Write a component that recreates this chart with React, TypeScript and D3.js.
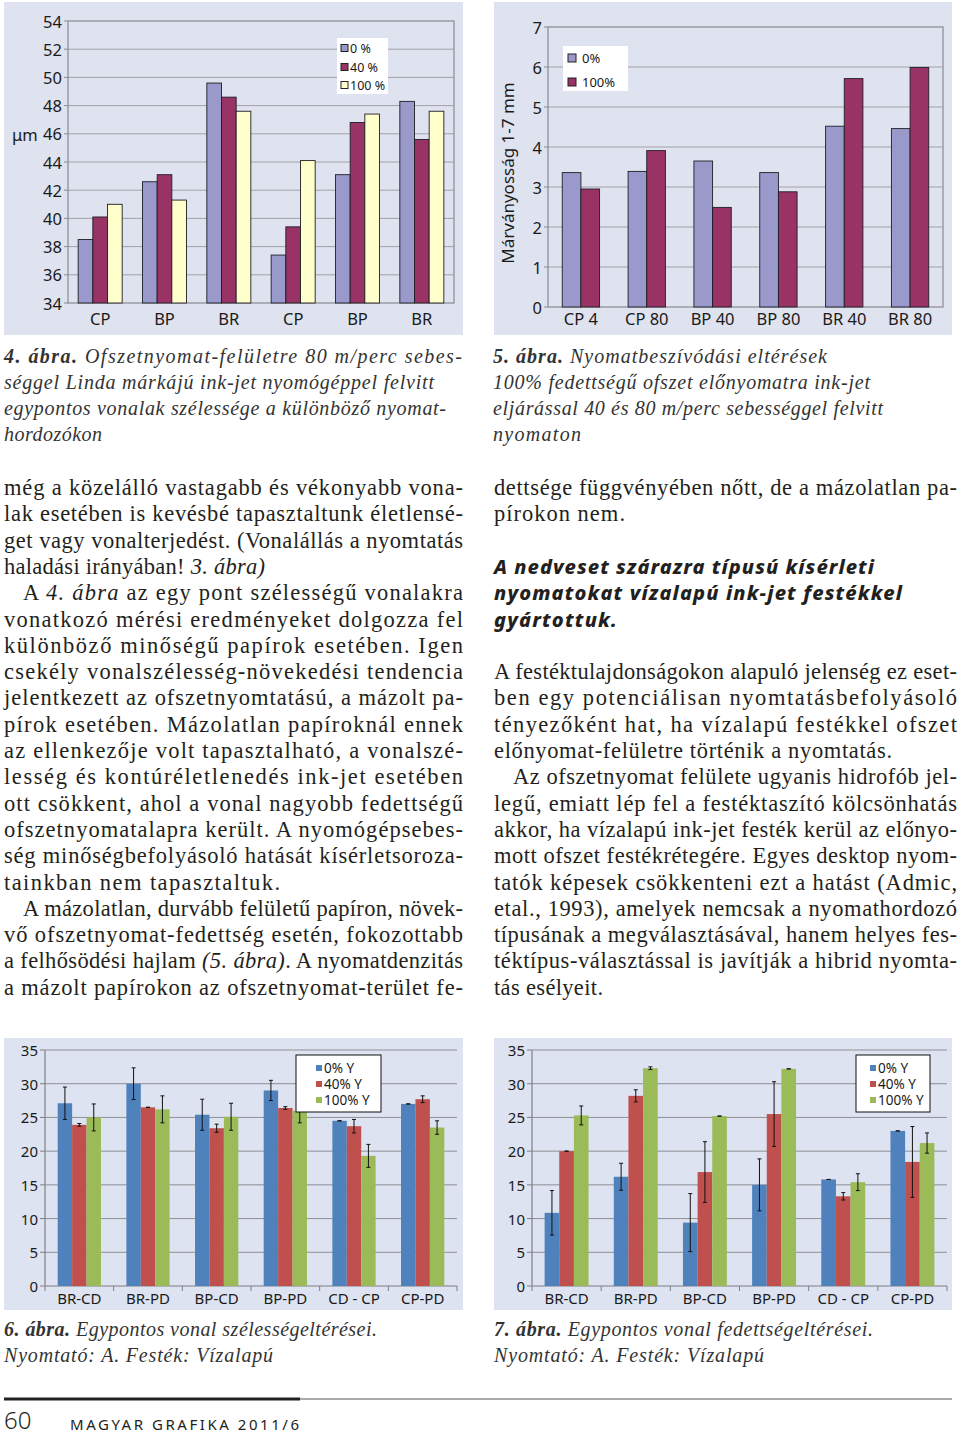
import React from 'react';
import * as d3 from 'd3';

// ---------------- chart data ----------------
const fig4Categories = ['CP', 'BP', 'BR', 'CP', 'BP', 'BR'];
const fig4SeriesNames = ['0 %', '40 %', '100 %'];
const fig4Cov0 = [38.5, 42.6, 49.6, 37.4, 43.1, 48.3];
const fig4Cov40 = [40.1, 43.1, 48.6, 39.4, 46.8, 45.6];
const fig4Cov100 = [41.0, 41.3, 47.6, 44.1, 47.4, 47.6];
const fig4Ticks = [34, 36, 38, 40, 42, 44, 46, 48, 50, 52, 54];

const fig5Categories = ['CP 4', 'CP 80', 'BP 40', 'BP 80', 'BR 40', 'BR 80'];
const fig5SeriesNames = ['0%', '100%'];
const fig5Cov0 = [3.36, 3.39, 3.65, 3.36, 4.52, 4.46];
const fig5Cov100 = [2.95, 3.91, 2.49, 2.88, 5.71, 5.99];
const fig5Ticks = [0, 1, 2, 3, 4, 5, 6, 7];

const fig67Categories = ['BR-CD', 'BR-PD', 'BP-CD', 'BP-PD', 'CD - CP', 'CP-PD'];
const fig67SeriesNames = ['0% Y', '40% Y', '100% Y'];
const fig67Ticks = [0, 5, 10, 15, 20, 25, 30, 35];

const fig6Y0 = [27.1, 30.0, 25.4, 29.0, 24.5, 27.0];
const fig6Y0Err = [2.4, 2.35, 2.3, 1.5, 0, 0];
const fig6Y40 = [23.9, 26.5, 23.4, 26.4, 23.7, 27.7];
const fig6Y40Err = [0.2, 0, 0.6, 0.2, 1.0, 0.5];
const fig6Y100 = [25.0, 26.2, 25.1, 26.0, 19.3, 23.5];
const fig6Y100Err = [2.0, 2.0, 2.0, 1.8, 1.7, 1.0];

const fig7Y0 = [10.85, 16.2, 9.4, 15.0, 15.8, 23.0];
const fig7Y0Err = [3.3, 2.0, 4.3, 3.85, 0, 0];
const fig7Y40 = [20.0, 28.2, 16.9, 25.5, 13.3, 18.4];
const fig7Y40Err = [0, 0.9, 4.5, 4.8, 0.55, 5.25];
const fig7Y100 = [25.3, 32.3, 25.2, 32.2, 15.4, 21.2];
const fig7Y100Err = [1.4, 0.2, 0, 0, 1.25, 1.5];

// ---------------- page text ----------------
// _..._ = italic, *...* = bold
const leftLines = [
  'még a közelálló vastagabb és vékonyabb vona-',
  'lak esetében is kevésbé tapasztaltunk életlensé-',
  'get vagy vonalterjedést. (Vonalállás a nyomtatás',
  'haladási irányában! _3. ábra)_',
  'A _4. ábra_ az egy pont szélességű vonalakra',
  'vonatkozó mérési eredményeket dolgozza fel',
  'különböző minőségű papírok esetében. Igen',
  'csekély vonalszélesség-növekedési tendencia',
  'jelentkezett az ofszetnyomtatású, a mázolt pa-',
  'pírok esetében. Mázolatlan papíroknál ennek',
  'az ellenkezője volt tapasztalható, a vonalszé-',
  'lesség és kontúréletlenedés ink-jet esetében',
  'ott csökkent, ahol a vonal nagyobb fedettségű',
  'ofszetnyomatalapra került. A nyomógépsebes-',
  'ség minőségbefolyásoló hatását kísérletsoroza-',
  'tainkban nem tapasztaltuk.',
  'A mázolatlan, durvább felületű papíron, növek-',
  'vő ofszetnyomat-fedettség esetén, fokozottabb',
  'a felhősödési hajlam _(5. ábra)_. A nyomatdenzitás',
  'a mázolt papírokon az ofszetnyomat-terület fe-',
];
const leftStarts = [4, 4, 4, 4, 23, 4, 4, 4, 4, 4, 4, 4, 4, 4, 4, 4, 23, 4, 4, 4];
const leftEnds = [463, 463, 463, 265, 463, 463, 463, 463, 463, 463, 463, 463, 463, 463, 463, 280, 463, 463, 463, 463];

const rightLines: [number, string, number, number][] = [
  [0, 'dettsége függvényében nőtt, de a mázolatlan pa-', 494, 957],
  [1, 'pírokon nem.', 494, 625],
  [7, 'A festéktulajdonságokon alapuló jelenség ez eset-', 494, 957],
  [8, 'ben egy potenciálisan nyomtatásbefolyásoló', 494, 957],
  [9, 'tényezőként hat, ha vízalapú festékkel ofszet', 494, 957],
  [10, 'előnyomat-felületre történik a nyomtatás.', 494, 892],
  [11, 'Az ofszetnyomat felülete ugyanis hidrofób jel-', 513, 957],
  [12, 'legű, emiatt lép fel a festéktaszító kölcsönhatás', 494, 957],
  [13, 'akkor, ha vízalapú ink-jet festék kerül az előnyo-', 494, 957],
  [14, 'mott ofszet festékrétegére. Egyes desktop nyom-', 494, 957],
  [15, 'tatók képesek csökkenteni ezt a hatást (Admic,', 494, 957],
  [16, 'etal., 1993), amelyek nemcsak a nyomathordozó', 494, 957],
  [17, 'típusának a megválasztásával, hanem helyes fes-', 494, 957],
  [18, 'téktípus-választással is javítják a hibrid nyomta-', 494, 957],
  [19, 'tás esélyeit.', 494, 603],
];
const headingLines: [number, string, number][] = [
  [3, 'A nedveset szárazra típusú kísérleti', 874],
  [4, 'nyomatokat vízalapú ink-jet festékkel', 902],
  [5, 'gyártottuk.', 617],
];

const cap4Lines: [string, number][] = [
  ['*4. ábra.* Ofszetnyomat-felületre 80 m/perc sebes-', 462],
  ['séggel Linda márkájú ink-jet nyomógéppel felvitt', 434],
  ['egypontos vonalak szélessége a különböző nyomat-', 446],
  ['hordozókon', 102],
];
const cap5Lines: [string, number][] = [
  ['*5. ábra.* Nyomatbeszívódási eltérések', 827],
  ['100% fedettségű ofszet előnyomatra ink-jet', 870],
  ['eljárással 40 és 80 m/perc sebességgel felvitt', 883],
  ['nyomaton', 581],
];
const cap6Lines: [string, number][] = [
  ['*6. ábra.* Egypontos vonal szélességeltérései.', 377],
  ['Nyomtató: A. Festék: Vízalapú', 273],
];
const cap7Lines: [string, number][] = [
  ['*7. ábra.* Egypontos vonal fedettségeltérései.', 873],
  ['Nyomtató: A. Festék: Vízalapú', 764],
];

const SERIF = "'Liberation Serif', 'Times New Roman', serif";
const SANS = "'Noto Sans', 'Open Sans', sans-serif";
const lineY = (i: number) => 495 + i * 26.3;

type Series = { name: string; values: number[]; errors?: number[]; color: string };
type Legend = {
  x: number; y: number; w: number; h: number; rows: number[];
  markerX: number; marker: number; textX: number; font: number; border?: string; markerStroke?: string;
};
type ChartProps = {
  panel: { x: number; y: number; w: number; h: number };
  plot: { l: number; r: number; t: number; b: number };
  domain: [number, number];
  ticks: number[];
  categories: string[];
  series: Series[];
  padding: number;
  classic: boolean;
  tickFont: number;
  catFont: number;
  catY: number;
  legend: Legend;
  fill: string;
};

function Chart(p: ChartProps) {
  const { plot } = p;
  const y = d3.scaleLinear().domain(p.domain).range([plot.b, plot.t]);
  const x0 = d3
    .scaleBand<number>()
    .domain(d3.range(p.categories.length))
    .range([plot.l, plot.r])
    .paddingInner(p.padding)
    .paddingOuter(p.padding / 2);
  const x1 = d3.scaleBand<number>().domain(d3.range(p.series.length)).range([0, x0.bandwidth()]);
  const grid = p.classic ? '#a2a2a8' : '#8f8f95';
  const axis = p.classic ? '#8a8a90' : '#7f7f85';
  const tickLen = p.classic ? 4 : 5;
  const L = p.legend;
  return (
    <g>
      <rect x={p.panel.x} y={p.panel.y} width={p.panel.w} height={p.panel.h} fill={p.fill} />
      {p.ticks
        .filter((t) => t !== p.domain[0] && (!p.classic || t !== p.domain[1]))
        .map((t) => (
          <line key={'g' + t} x1={plot.l} x2={plot.r} y1={y(t)} y2={y(t)} stroke={grid} strokeWidth={1} />
        ))}
      {p.classic ? (
        <rect x={plot.l} y={plot.t} width={plot.r - plot.l} height={plot.b - plot.t} fill="none" stroke={axis} strokeWidth={1.2} />
      ) : (
        <g>
          <line x1={plot.l} x2={plot.l} y1={plot.t} y2={plot.b} stroke={axis} strokeWidth={1.2} />
          <line x1={plot.l} x2={plot.r} y1={plot.b} y2={plot.b} stroke={axis} strokeWidth={1.2} />
          {d3.range(p.categories.length + 1).map((i) => (
            <line key={'ct' + i} x1={plot.l + i * x0.step()} x2={plot.l + i * x0.step()} y1={plot.b} y2={plot.b + 5} stroke={axis} />
          ))}
        </g>
      )}
      {p.ticks.map((t) => (
        <g key={'t' + t}>
          <line x1={plot.l - tickLen} x2={plot.l} y1={y(t)} y2={y(t)} stroke={axis} />
          <text
            x={plot.l - tickLen - 2}
            y={y(t)}
            textAnchor="end"
            dominantBaseline="central"
            fontFamily={SANS}
            fontSize={p.tickFont}
            fill="#1a1a1a"
          >
            {t}
          </text>
        </g>
      ))}
      {p.series.map((s, si) =>
        s.values.map((v, ci) => {
          const bx = (x0(ci) as number) + (x1(si) as number);
          return (
            <rect
              key={`b${si}-${ci}`}
              x={bx}
              y={y(v)}
              width={x1.bandwidth()}
              height={y(p.domain[0]) - y(v)}
              fill={s.color}
              stroke={p.classic ? '#1e1e24' : 'none'}
              strokeWidth={p.classic ? 0.9 : 0}
            />
          );
        })
      )}
      {p.series.map((s, si) =>
        s.errors
          ? s.values.map((v, ci) => {
              const cx = (x0(ci) as number) + (x1(si) as number) + x1.bandwidth() / 2;
              const e = s.errors![ci];
              return (
                <g key={`e${si}-${ci}`} stroke="#111" strokeWidth={1}>
                  <line x1={cx} x2={cx} y1={y(v + e)} y2={y(v - e)} />
                  <line x1={cx - 2} x2={cx + 2} y1={y(v + e)} y2={y(v + e)} />
                  <line x1={cx - 2} x2={cx + 2} y1={y(v - e)} y2={y(v - e)} />
                </g>
              );
            })
          : null
      )}
      {p.categories.map((c, ci) => (
        <text
          key={'c' + ci}
          x={(x0(ci) as number) + x0.bandwidth() / 2}
          y={p.catY}
          textAnchor="middle"
          dominantBaseline="central"
          fontFamily={SANS}
          fontSize={p.catFont}
          fill="#1a1a1a"
        >
          {c}
        </text>
      ))}
      <rect x={L.x} y={L.y} width={L.w} height={L.h} fill="#ffffff" stroke={L.border || 'none'} strokeWidth={1} />
      {p.series.map((s, si) => (
        <g key={'l' + si}>
          <rect
            x={L.markerX}
            y={L.rows[si] - L.marker / 2}
            width={L.marker}
            height={L.marker}
            fill={s.color}
            stroke={L.markerStroke || 'none'}
            strokeWidth={1}
          />
          <text x={L.textX} y={L.rows[si]} dominantBaseline="central" fontFamily={SANS} fontSize={L.font} fill="#1a1a1a">
            {s.name}
          </text>
        </g>
      ))}
    </g>
  );
}

function Rich({ x, end, y, text, size, family, italicBase, color, weight }: any) {
  const parts: { s: string; it: boolean; b: boolean }[] = [];
  let it = false;
  let b = false;
  let cur = '';
  for (const ch of text) {
    if (ch === '_' || ch === '*') {
      if (cur) parts.push({ s: cur, it, b });
      cur = '';
      if (ch === '_') it = !it;
      else b = !b;
    } else cur += ch;
  }
  if (cur) parts.push({ s: cur, it, b });
  return (
    <text
      x={x}
      y={y}
      fontSize={size}
      fontFamily={family}
      fill={color || '#231f20'}
      fontStyle={italicBase ? 'italic' : 'normal'}
      fontWeight={weight || 'normal'}
      textLength={end ? end - x : undefined}
      lengthAdjust="spacing"
    >
      {parts.map((pt, i) => (
        <tspan key={i} fontStyle={pt.it || italicBase ? 'italic' : 'normal'} fontWeight={pt.b ? 'bold' : undefined}>
          {pt.s}
        </tspan>
      ))}
    </text>
  );
}

export default function App() {
  const lav = '#dfe2ef';
  const lav2 = '#dde3f0';
  return (
    <svg
      width={960}
      height={1437}
      viewBox="0 0 960 1437"
      style={{ position: 'absolute', left: 0, top: 0, background: '#fff' }}
    >
      <rect x={0} y={0} width={960} height={1437} fill="#fff" />

      {/* Fig 4 */}
      <Chart
        panel={{ x: 4, y: 2, w: 459, h: 333 }}
        plot={{ l: 68, r: 454, t: 21, b: 303 }}
        domain={[34, 54]}
        ticks={fig4Ticks}
        categories={fig4Categories}
        series={[
          { name: fig4SeriesNames[0], values: fig4Cov0, color: '#9999cc' },
          { name: fig4SeriesNames[1], values: fig4Cov40, color: '#993366' },
          { name: fig4SeriesNames[2], values: fig4Cov100, color: '#ffffcc' },
        ]}
        padding={0.316}
        classic={true}
        tickFont={16.5}
        catFont={16.5}
        catY={318}
        fill={lav}
        legend={{ x: 337, y: 38, w: 51, h: 56, rows: [48, 67, 85], markerX: 341, marker: 7, textX: 350, font: 12.5, markerStroke: '#222' }}
      />
      <text x={12} y={134} dominantBaseline="central" fontFamily={SANS} fontSize={16.5} fill="#1a1a1a">
        μm
      </text>

      {/* Fig 5 */}
      <Chart
        panel={{ x: 494, y: 2, w: 458, h: 333 }}
        plot={{ l: 548, r: 943, t: 27, b: 307 }}
        domain={[0, 7]}
        ticks={fig5Ticks}
        categories={fig5Categories}
        series={[
          { name: fig5SeriesNames[0], values: fig5Cov0, color: '#9999cc' },
          { name: fig5SeriesNames[1], values: fig5Cov100, color: '#993366' },
        ]}
        padding={0.433}
        classic={true}
        tickFont={16.5}
        catFont={16.5}
        catY={318}
        fill={lav}
        legend={{ x: 563, y: 46, w: 65, h: 45, rows: [58, 82], markerX: 568, marker: 8, textX: 582, font: 13, markerStroke: '#222' }}
      />
      <text
        transform="translate(507,173) rotate(-90)"
        textAnchor="middle"
        dominantBaseline="central"
        fontFamily={SANS}
        fontSize={17}
        fill="#1a1a1a"
      >
        Márványosság 1-7 mm
      </text>

      {/* Fig 6 */}
      <Chart
        panel={{ x: 4, y: 1038, w: 459, h: 272 }}
        plot={{ l: 45, r: 457, t: 1050, b: 1286 }}
        domain={[0, 35]}
        ticks={fig67Ticks}
        categories={fig67Categories}
        series={[
          { name: fig67SeriesNames[0], values: fig6Y0, errors: fig6Y0Err, color: '#4f81bd' },
          { name: fig67SeriesNames[1], values: fig6Y40, errors: fig6Y40Err, color: '#c0504d' },
          { name: fig67SeriesNames[2], values: fig6Y100, errors: fig6Y100Err, color: '#9bbb59' },
        ]}
        padding={0.37}
        classic={false}
        tickFont={15}
        catFont={15}
        catY={1298}
        fill={lav2}
        legend={{ x: 296, y: 1055, w: 85, h: 57, rows: [1068, 1084, 1100], markerX: 316, marker: 6, textX: 324, font: 13.5, border: '#111' }}
      />

      {/* Fig 7 */}
      <Chart
        panel={{ x: 494, y: 1038, w: 458, h: 272 }}
        plot={{ l: 532, r: 947, t: 1050, b: 1286 }}
        domain={[0, 35]}
        ticks={fig67Ticks}
        categories={fig67Categories}
        series={[
          { name: fig67SeriesNames[0], values: fig7Y0, errors: fig7Y0Err, color: '#4f81bd' },
          { name: fig67SeriesNames[1], values: fig7Y40, errors: fig7Y40Err, color: '#c0504d' },
          { name: fig67SeriesNames[2], values: fig7Y100, errors: fig7Y100Err, color: '#9bbb59' },
        ]}
        padding={0.365}
        classic={false}
        tickFont={15}
        catFont={15}
        catY={1298}
        fill={lav2}
        legend={{ x: 856, y: 1055, w: 74, h: 57, rows: [1068, 1084, 1100], markerX: 870, marker: 6, textX: 878, font: 13.5, border: '#111' }}
      />

      {/* captions */}
      {cap4Lines.map(([t, e], i) => (
        <Rich key={'c4' + i} x={4} end={e} y={363 + i * 26} text={t} size={20} family={SERIF} italicBase color="#333" />
      ))}
      {cap5Lines.map(([t, e], i) => (
        <Rich key={'c5' + i} x={493} end={e} y={363 + i * 26} text={t} size={20} family={SERIF} italicBase color="#333" />
      ))}
      {cap6Lines.map(([t, e], i) => (
        <Rich key={'c6' + i} x={4} end={e} y={1336 + i * 26} text={t} size={20} family={SERIF} italicBase color="#333" />
      ))}
      {cap7Lines.map(([t, e], i) => (
        <Rich key={'c7' + i} x={494} end={e} y={1336 + i * 26} text={t} size={20} family={SERIF} italicBase color="#333" />
      ))}

      {/* body text */}
      {leftLines.map((t, i) => (
        <Rich key={'L' + i} x={leftStarts[i]} end={leftEnds[i]} y={lineY(i)} text={t} size={22.5} family={SERIF} />
      ))}
      {rightLines.map(([i, t, s, e]) => (
        <Rich key={'R' + i} x={s} end={e} y={lineY(i)} text={t} size={22.5} family={SERIF} />
      ))}
      {headingLines.map(([i, t, e]) => (
        <Rich key={'H' + i} x={494} end={e} y={lineY(i)} text={t} size={20} family={SANS} italicBase weight={800} />
      ))}

      {/* footer */}
      <line x1={4} x2={300} y1={1399} y2={1399} stroke="#222" strokeWidth={3} />
      <line x1={300} x2={952} y1={1399} y2={1399} stroke="#555" strokeWidth={1} />
      <text x={4} y={1429} fontFamily={SANS} fontWeight={300} fontSize={24} fill="#231f20">
        60
      </text>
      <text x={70} y={1430} fontFamily={SANS} fontSize={15} fill="#231f20" textLength={229} lengthAdjust="spacing">
        MAGYAR GRAFIKA 2011/6
      </text>
    </svg>
  );
}
